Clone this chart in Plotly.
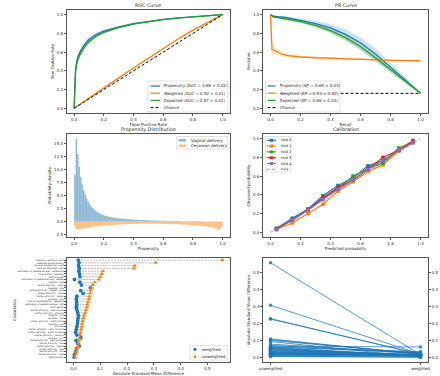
import plotly.graph_objects as go

W, H = 440, 376
BLUE, ORANGE, GREEN, RED, PURPLE = "#1f77b4", "#ff7f0e", "#2ca02c", "#d62728", "#9467bd"

# ---------------- ROC data ----------------
roc_fpr = [0.0, 0.005, 0.01, 0.02, 0.03, 0.05, 0.075, 0.1, 0.15, 0.2, 0.25, 0.3, 0.4, 0.5, 0.6, 0.7, 0.8, 0.9, 1.0]
roc_prop = [0.0, 0.33, 0.43, 0.52, 0.57, 0.63, 0.69, 0.735, 0.79, 0.825, 0.85, 0.87, 0.905, 0.93, 0.95, 0.965, 0.978, 0.99, 1.0]
roc_prop_lo = [0.0, 0.29, 0.39, 0.48, 0.535, 0.60, 0.66, 0.71, 0.77, 0.81, 0.837, 0.86, 0.897, 0.924, 0.945, 0.961, 0.975, 0.988, 1.0]
roc_prop_hi = [0.0, 0.37, 0.47, 0.56, 0.605, 0.66, 0.72, 0.76, 0.81, 0.84, 0.863, 0.88, 0.913, 0.936, 0.955, 0.969, 0.981, 0.992, 1.0]
roc_exp = [0.0, 0.30, 0.40, 0.49, 0.54, 0.605, 0.665, 0.71, 0.77, 0.81, 0.838, 0.862, 0.90, 0.927, 0.948, 0.963, 0.977, 0.99, 1.0]
roc_exp_lo = [0.0, 0.27, 0.37, 0.46, 0.51, 0.58, 0.64, 0.69, 0.755, 0.797, 0.827, 0.853, 0.893, 0.922, 0.944, 0.96, 0.975, 0.988, 1.0]
roc_exp_hi = [0.0, 0.33, 0.43, 0.52, 0.57, 0.63, 0.69, 0.73, 0.785, 0.823, 0.849, 0.871, 0.907, 0.932, 0.952, 0.966, 0.979, 0.992, 1.0]
roc_w_fpr = [0.0, 0.1, 0.2, 0.3, 0.4, 0.5, 0.6, 0.7, 0.8, 0.9, 1.0]
roc_w = [0.0, 0.11, 0.218, 0.325, 0.43, 0.535, 0.637, 0.74, 0.835, 0.92, 1.0]
roc_w_lo = [0.0, 0.10, 0.208, 0.315, 0.42, 0.525, 0.627, 0.732, 0.828, 0.915, 1.0]
roc_w_hi = [0.0, 0.12, 0.228, 0.335, 0.44, 0.545, 0.647, 0.748, 0.842, 0.925, 1.0]
chance_xy = [0.0, 1.0]

# ---------------- PR data ----------------
pr_rec = [0.0, 0.02, 0.05, 0.1, 0.2, 0.3, 0.4, 0.5, 0.6, 0.7, 0.8, 0.9, 1.0]
pr_prop = [1.0, 0.985, 0.978, 0.97, 0.94, 0.905, 0.86, 0.79, 0.70, 0.58, 0.44, 0.30, 0.16]
pr_prop_lo = [1.0, 0.98, 0.972, 0.96, 0.92, 0.87, 0.81, 0.73, 0.63, 0.51, 0.39, 0.27, 0.15]
pr_prop_hi = [1.0, 0.99, 0.985, 0.98, 0.96, 0.935, 0.90, 0.845, 0.76, 0.64, 0.49, 0.33, 0.17]
pr_exp = [1.0, 0.975, 0.968, 0.955, 0.925, 0.885, 0.83, 0.755, 0.66, 0.54, 0.41, 0.28, 0.16]
pr_exp_lo = [1.0, 0.965, 0.955, 0.94, 0.905, 0.86, 0.80, 0.72, 0.62, 0.50, 0.38, 0.265, 0.155]
pr_exp_hi = [1.0, 0.985, 0.978, 0.967, 0.94, 0.905, 0.855, 0.785, 0.69, 0.57, 0.44, 0.295, 0.165]
pr_w_rec = [0.0, 0.003, 0.01, 0.03, 0.05, 0.08, 0.12, 0.2, 0.3, 0.4, 0.5, 0.6, 0.7, 0.8, 0.9, 1.0]
pr_w = [1.0, 0.78, 0.63, 0.615, 0.60, 0.575, 0.562, 0.548, 0.54, 0.533, 0.527, 0.522, 0.517, 0.513, 0.51, 0.508]
pr_w_lo = [1.0, 0.62, 0.56, 0.575, 0.57, 0.555, 0.545, 0.535, 0.53, 0.523, 0.518, 0.513, 0.508, 0.503, 0.50, 0.495]
pr_w_hi = [1.0, 0.95, 0.70, 0.655, 0.63, 0.595, 0.58, 0.561, 0.55, 0.543, 0.536, 0.531, 0.526, 0.523, 0.52, 0.521]
pr_chance_x = [0.0, 1.0]
pr_chance_y = [0.16, 0.16]

# ---------------- Propensity distribution (100 bins on [0,1]) ----------------
bin_width = 0.01
vaginal_density = [
    9.0, 16.0, 13.0, 10.5, 8.6, 7.1, 6.0, 5.1, 4.4, 3.8,
    3.3, 2.9, 2.6, 2.3, 2.05, 1.85, 1.68, 1.52, 1.38, 1.26,
    1.15, 1.06, 0.98, 0.91, 0.85, 0.80, 0.75, 0.71, 0.67, 0.63,
    0.60, 0.57, 0.54, 0.51, 0.48, 0.46, 0.44, 0.42, 0.40, 0.38,
    0.36, 0.34, 0.33, 0.31, 0.30, 0.28, 0.27, 0.26, 0.25, 0.23,
    0.22, 0.21, 0.20, 0.19, 0.18, 0.17, 0.16, 0.15, 0.14, 0.13,
    0.12, 0.11, 0.10, 0.10, 0.09, 0.08, 0.08, 0.07, 0.07, 0.06,
    0.06, 0.05, 0.05, 0.05, 0.04, 0.04, 0.04, 0.03, 0.03, 0.03,
    0.03, 0.02, 0.02, 0.02, 0.02, 0.02, 0.01, 0.01, 0.01, 0.01,
    0.01, 0.01, 0.01, 0.01, 0.01, 0.01, 0.005, 0.005, 0.005, 0.005]
cesarean_density = [
    -0.9, -1.45, -1.55, -1.5, -1.45, -1.4, -1.35, -1.3, -1.25, -1.2,
    -1.15, -1.1, -1.05, -1.0, -0.98, -0.95, -0.92, -0.9, -0.87, -0.85,
    -0.82, -0.8, -0.78, -0.75, -0.73, -0.7, -0.68, -0.66, -0.64, -0.62,
    -0.6, -0.58, -0.57, -0.55, -0.54, -0.53, -0.52, -0.51, -0.5, -0.5,
    -0.49, -0.48, -0.48, -0.47, -0.47, -0.46, -0.46, -0.46, -0.45, -0.45,
    -0.45, -0.45, -0.45, -0.45, -0.46, -0.46, -0.46, -0.47, -0.47, -0.48,
    -0.48, -0.49, -0.5, -0.5, -0.51, -0.52, -0.53, -0.54, -0.55, -0.56,
    -0.57, -0.58, -0.6, -0.61, -0.63, -0.64, -0.66, -0.68, -0.7, -0.72,
    -0.74, -0.76, -0.78, -0.8, -0.83, -0.86, -0.89, -0.92, -0.96, -1.0,
    -1.05, -1.1, -1.15, -1.22, -1.3, -1.4, -1.5, -1.6, -1.5, -1.1]
bin_centers = [(i + 0.5) * bin_width for i in range(len(vaginal_density))]
dens_tickvals = [-2.5, 0, 2.5, 5, 7.5, 10, 12.5, 15]
dens_ticktext = ["2.5", "0.0", "2.5", "5.0", "7.5", "10.0", "12.5", "15.0"]

# ---------------- Calibration ----------------
cal_pred = [0.04, 0.145, 0.25, 0.35, 0.45, 0.55, 0.65, 0.75, 0.855, 0.95]
fold0 = [0.04, 0.15, 0.25, 0.39, 0.50, 0.58, 0.71, 0.76, 0.87, 0.96]
fold1 = [0.03, 0.10, 0.20, 0.30, 0.44, 0.54, 0.65, 0.72, 0.87, 0.96]
fold2 = [0.04, 0.13, 0.24, 0.36, 0.47, 0.60, 0.68, 0.74, 0.90, 0.96]
fold3 = [0.04, 0.13, 0.24, 0.37, 0.48, 0.56, 0.68, 0.80, 0.88, 0.98]
fold4 = [0.03, 0.13, 0.235, 0.35, 0.46, 0.56, 0.67, 0.77, 0.88, 0.96]
fold_names = ["fold 0", "fold 1", "fold 2", "fold 3", "fold 4"]
fold_colors = [BLUE, ORANGE, GREEN, RED, PURPLE]

# ---------------- Covariate balance ----------------
cov_labels = [
    "Previous C-Sections count", "Maternal age at delivery", "Previous pregnancies count",
    "Previous deliveries count", "Estimation of gestational age - Ultrasound", "Time of birth - Weekday",
    "Mother height", "Estimation of gestational age - Median", "Hospital - CH8",
    "Mother Ethnicity - Other", "Hospital - CH6", "Mother Ethnicity - Western Asia",
    "Mother Ethnicity - Israel", "Mother Ethnicity - Yemen", "Hospital - CH5",
    "Time of hospitalization - Weekend", "Estimation of gestational age - LMP", "Birth weight",
    "Mother Ethnicity - East Europe", "Mother Ethnicity - Ethiopia", "Hospital - CH3",
    "Hospital - CH2", "Mother Ethnicity - North Africa", "Hospital - CH1",
    "Child sex", "Mother Ethnicity - Latin America", "Mother Ethnicity - North America",
    "Mother Ethnicity - Morocco", "Hospital - CH7", "Mother Ethnicity - West Europe",
    "Mother Ethnicity - Iraq", "Mother Ethnicity - Russia", "Mother Ethnicity - Asia",
    "Mother Ethnicity - Iran", "Mother Ethnicity - India", "Birth plurality"]
smd_unweighted = [0.556, 0.307, 0.229, 0.226, 0.110, 0.106, 0.101, 0.095, 0.080, 0.072,
                  0.068, 0.065, 0.062, 0.060, 0.058, 0.055, 0.052, 0.050, 0.047, 0.044,
                  0.040, 0.037, 0.035, 0.033, 0.031, 0.029, 0.027, 0.025, 0.023, 0.021,
                  0.019, 0.017, 0.014, 0.012, 0.009, 0.007]
smd_weighted = [0.018, 0.021, 0.019, 0.022, 0.020, 0.023, 0.024, 0.004, 0.024, 0.030,
                0.063, 0.027, 0.036, 0.013, 0.011, 0.012, 0.012, 0.011, 0.013, 0.016,
                0.019, 0.017, 0.016, 0.015, 0.013, 0.011, 0.008, 0.013, 0.028, 0.010,
                0.016, 0.022, 0.011, 0.009, 0.004, 0.003]
balance_cats = ["unweighted", "weighted"]
smd_ticks = [0.0, 0.1, 0.2, 0.3, 0.4, 0.5]

# ---------------- Figure ----------------
FONT = "DejaVu Sans"
TXT = "#262626"
fig = go.Figure()


def band(xs, lo, hi, color, xa, ya):
    fig.add_trace(go.Scatter(x=list(xs) + list(xs)[::-1], y=list(hi) + list(lo)[::-1],
                             fill="toself", fillcolor=color, line=dict(width=0),
                             mode="lines", hoverinfo="skip", showlegend=False,
                             xaxis=xa, yaxis=ya))


def line(xs, ys, color, xa, ya, width=1.3, dash="solid"):
    fig.add_trace(go.Scatter(x=xs, y=ys, mode="lines", line=dict(color=color, width=width, dash=dash),
                             showlegend=False, xaxis=xa, yaxis=ya))


# ROC
band(roc_fpr, roc_prop_lo, roc_prop_hi, "rgba(31,119,180,0.22)", "x", "y")
band(roc_w_fpr, roc_w_lo, roc_w_hi, "rgba(255,127,14,0.22)", "x", "y")
band(roc_fpr, roc_exp_lo, roc_exp_hi, "rgba(44,160,44,0.22)", "x", "y")
line(roc_fpr, roc_prop, BLUE, "x", "y")
line(roc_w_fpr, roc_w, ORANGE, "x", "y")
line(roc_fpr, roc_exp, GREEN, "x", "y")
line(chance_xy, chance_xy, "black", "x", "y", width=1, dash="3px,2px")

# PR
band(pr_rec, pr_prop_lo, pr_prop_hi, "rgba(31,119,180,0.22)", "x2", "y2")
band(pr_w_rec, pr_w_lo, pr_w_hi, "rgba(255,127,14,0.22)", "x2", "y2")
band(pr_rec, pr_exp_lo, pr_exp_hi, "rgba(44,160,44,0.22)", "x2", "y2")
line(pr_rec, pr_prop, BLUE, "x2", "y2")
line(pr_w_rec, pr_w, ORANGE, "x2", "y2")
line(pr_rec, pr_exp, GREEN, "x2", "y2")
line(pr_chance_x, pr_chance_y, "black", "x2", "y2", width=1, dash="3px,2px")

# Propensity distribution
fig.add_trace(go.Bar(x=bin_centers, y=vaginal_density, width=bin_width,
                     marker=dict(color="rgba(31,119,180,0.5)", line=dict(width=0)),
                     showlegend=False, xaxis="x3", yaxis="y3"))
fig.add_trace(go.Bar(x=bin_centers, y=cesarean_density, width=bin_width,
                     marker=dict(color="rgba(255,127,14,0.5)", line=dict(width=0)),
                     showlegend=False, xaxis="x3", yaxis="y3"))

# Calibration
line(chance_xy, chance_xy, "#888888", "x4", "y4", width=0.8, dash="3px,2px")
for ys, c in zip([fold0, fold1, fold2, fold3, fold4], fold_colors):
    fig.add_trace(go.Scatter(x=cal_pred, y=ys, mode="lines+markers",
                             line=dict(color=c, width=1.2),
                             marker=dict(symbol="square", size=3.6, color=c),
                             showlegend=False, xaxis="x4", yaxis="y4"))

# Balance dot plot (row position = index from bottom)
n_cov = len(cov_labels)
cov_pos = [n_cov - 1 - i for i in range(n_cov)]
dx, dy = [], []
for p, u, w in zip(cov_pos, smd_unweighted, smd_weighted):
    dx += [w, u, None]
    dy += [p, p, None]
fig.add_trace(go.Scatter(x=dx, y=dy, mode="lines", line=dict(color="#999999", width=0.7, dash="2px,1px"),
                         showlegend=False, xaxis="x5", yaxis="y5"))
fig.add_trace(go.Scatter(x=smd_weighted, y=cov_pos, mode="markers",
                         marker=dict(symbol="circle", size=3.8, color=BLUE),
                         showlegend=False, xaxis="x5", yaxis="y5"))
fig.add_trace(go.Scatter(x=smd_unweighted, y=cov_pos, mode="markers",
                         marker=dict(symbol="triangle-up", size=4, color=ORANGE),
                         showlegend=False, xaxis="x5", yaxis="y5"))

# Balance slope plot
sx, sy = [], []
for u, w in zip(smd_unweighted, smd_weighted):
    sx += [balance_cats[0], balance_cats[1], None]
    sy += [u, w, None]
fig.add_trace(go.Scatter(x=sx, y=sy, mode="lines+markers",
                         line=dict(color="rgba(31,119,180,0.75)", width=1),
                         marker=dict(symbol="circle", size=3.4, color="rgba(31,119,180,0.85)"),
                         showlegend=False, xaxis="x6", yaxis="y6"))
fig.add_trace(go.Scatter(x=[balance_cats[0]], y=[smd_ticks[0]], mode="markers",
                         marker=dict(opacity=0), hoverinfo="skip", showlegend=False,
                         xaxis="x6", yaxis="y7"))

# ---------------- Layout ----------------
def PX(x):
    return x / W


def PY(y):
    return 1 - y / H


LX = [PX(66.7), PX(230)]
RX = [PX(263), PX(428)]
R1 = [PY(113), PY(10)]
R2 = [PY(237), PY(134)]
R3 = [PY(362), PY(258)]


def ax(domain, anchor, rng, title=None, standoff=2, **kw):
    d = dict(domain=domain, anchor=anchor, range=rng, showline=True, linecolor="#555555",
             linewidth=0.8, mirror=True, ticks="outside", ticklen=2, tickwidth=0.6,
             tickcolor="#555555", tickfont=dict(size=4, color=TXT, family=FONT),
             showgrid=False, zeroline=False, automargin=False)
    if title:
        d["title"] = dict(text=title, font=dict(size=4, color=TXT, family=FONT), standoff=standoff)
    d.update(kw)
    return d


tick01 = dict(tickvals=[0, 0.2, 0.4, 0.6, 0.8, 1.0], tickformat=".1f")
rng01 = [-0.05, 1.05]

fig.update_layout(
    width=W, height=H, margin=dict(l=0, r=0, t=0, b=0, pad=0), autosize=False,
    paper_bgcolor="white", plot_bgcolor="rgba(0,0,0,0)", barmode="overlay",
    font=dict(family=FONT, color=TXT), showlegend=False,
    xaxis=ax(LX, "y", rng01, "False Positive Rate", **tick01),
    yaxis=ax(R1, "x", rng01, "True Positive Rate", **tick01),
    xaxis2=ax(RX, "y2", rng01, "Recall", **tick01),
    yaxis2=ax(R1, "x2", rng01, "Precision", **tick01),
    xaxis3=ax(LX, "y3", [-0.05, 1.05], "Propensity", **tick01),
    yaxis3=ax(R2, "x3", [-3.0, 16.85], "Probability density", tickvals=dens_tickvals, ticktext=dens_ticktext),
    xaxis4=ax(RX, "y4", rng01, "Predicted probability", **tick01),
    yaxis4=ax(R2, "x4", rng01, "Observed probability", **tick01),
    xaxis5=ax(LX, "y5", [-0.025, 0.584], "Absolute Standard Mean Difference", tickvals=smd_ticks, tickformat=".1f"),
    yaxis5=ax(R3, "x5", [-1.75, n_cov - 0.25], "Covariates", standoff=1,
              tickvals=cov_pos, ticktext=cov_labels,
              tickfont=dict(size=2.2, color=TXT, family=FONT), ticklen=1.5),
    xaxis6=ax(RX, "y6", [-0.05, 1.05], type="category", categoryorder="array", categoryarray=balance_cats),
    yaxis6=ax(R3, "x6", [-0.025, 0.584], "Absolute Standard Mean Difference", tickvals=smd_ticks, tickformat=".1f"),
    yaxis7=dict(domain=R3, anchor="x6", overlaying="y6", side="right", range=[-0.025, 0.584],
                showline=False, ticks="outside", ticklen=2, tickwidth=0.6, tickcolor="#555555",
                tickfont=dict(size=4, color=TXT, family=FONT), tickvals=smd_ticks, tickformat=".1f",
                showgrid=False, zeroline=False, automargin=False),
)

shapes, annos = [], []


def title(cx, cy, text):
    annos.append(dict(x=PX(cx), y=PY(cy), xref="paper", yref="paper", text=text, showarrow=False,
                      xanchor="center", yanchor="middle", font=dict(size=4.8, color=TXT, family=FONT)))


def box(x0, y0, x1, y1):
    shapes.append(dict(type="rect", xref="paper", yref="paper", x0=PX(x0), x1=PX(x1), y0=PY(y1), y1=PY(y0),
                       line=dict(color="#cccccc", width=0.6), fillcolor="rgba(255,255,255,0.85)", layer="above"))


def hline(x0, x1, y, color, dash="solid", width=1.2):
    shapes.append(dict(type="line", xref="paper", yref="paper", x0=PX(x0), x1=PX(x1), y0=PY(y), y1=PY(y),
                       line=dict(color=color, width=width, dash=dash), layer="above"))


def patch(x0, x1, y, h, color):
    shapes.append(dict(type="rect", xref="paper", yref="paper", x0=PX(x0), x1=PX(x1), y0=PY(y + h / 2),
                       y1=PY(y - h / 2), line=dict(width=0), fillcolor=color, layer="above"))


def mark(cx, cy, kind, color, r=1.5):
    if kind == "circle":
        shapes.append(dict(type="circle", xref="paper", yref="paper", x0=PX(cx - r), x1=PX(cx + r),
                           y0=PY(cy + r), y1=PY(cy - r), line=dict(width=0), fillcolor=color, layer="above"))
    elif kind == "square":
        shapes.append(dict(type="rect", xref="paper", yref="paper", x0=PX(cx - r), x1=PX(cx + r),
                           y0=PY(cy + r), y1=PY(cy - r), line=dict(width=0), fillcolor=color, layer="above"))
    else:
        p = "M %f %f L %f %f L %f %f Z" % (PX(cx - r), PY(cy + r), PX(cx + r), PY(cy + r), PX(cx), PY(cy - r))
        shapes.append(dict(type="path", xref="paper", yref="paper", path=p, line=dict(width=0),
                           fillcolor=color, layer="above"))


def text(x, y, s, size=4):
    annos.append(dict(x=PX(x), y=PY(y), xref="paper", yref="paper", text=s, showarrow=False,
                      xanchor="left", yanchor="middle", font=dict(size=size, color=TXT, family=FONT)))


title(148.3, 5.5, "ROC Curve")
title(345.5, 5.5, "PR Curve")
title(148.3, 129.5, "Propensity Distribution")
title(345.5, 129.5, "Calibration")

# ROC legend
box(148, 81, 228, 112)
roc_leg = [("Propensity (AUC = 0.88 ± 0.02)", BLUE, "solid"), ("Weighted (AUC = 0.52 ± 0.01)", ORANGE, "solid"),
           ("Expected (AUC = 0.87 ± 0.01)", GREEN, "solid"), ("Chance", "black", "3px,2px")]
for i, (s, c, d) in enumerate(roc_leg):
    y = 86 + i * 7.2
    hline(150.5, 160, y, c, d, 1.2 if d == "solid" else 1)
    text(162, y, s)

# PR legend
box(265.5, 81, 340, 112)
pr_leg = [("Propensity (AP = 0.69 ± 0.03)", BLUE, "solid"), ("Weighted (AP = 0.53 ± 0.02)", ORANGE, "solid"),
          ("Expected (AP = 0.66 ± 0.03)", GREEN, "solid"), ("Chance", "black", "3px,2px")]
for i, (s, c, d) in enumerate(pr_leg):
    y = 86 + i * 7.2
    hline(267.5, 275.5, y, c, d, 1.2 if d == "solid" else 1)
    text(277.5, y, s)

# Propensity legend
box(176.5, 136.5, 228, 149)
patch(178.5, 186, 140.3, 2.6, "rgba(31,119,180,0.5)")
text(189, 140.3, "Vaginal delivery")
patch(178.5, 186, 145.8, 2.6, "rgba(255,127,14,0.5)")
text(189, 145.8, "Cesarean delivery")

# Calibration legend
box(265.5, 136.5, 291, 172)
for i, (s, c) in enumerate(zip(fold_names, fold_colors)):
    y = 140.3 + i * 5.8
    hline(267, 276, y, c, "solid", 1.2)
    mark(271.5, y, "square", c, 1.5)
    text(278.5, y, s, size=3.6)
hline(267, 276, 140.3 + 5 * 5.8, "#888888", "3px,2px", 0.8)
text(278.5, 140.3 + 5 * 5.8, "x=y", size=3.6)

# Balance legend
box(190, 345.5, 228, 360)
mark(195, 349.3, "circle", BLUE, 1.6)
text(199.5, 349.3, "weighted")
mark(195, 356.3, "triangle", ORANGE, 1.7)
text(199.5, 356.3, "unweighted")

fig.update_layout(shapes=shapes, annotations=annos)
fig.write_html("out.html", config={"displayModeBar": False},
               post_script="document.body.style.margin='0';document.body.style.overflow='hidden';")
